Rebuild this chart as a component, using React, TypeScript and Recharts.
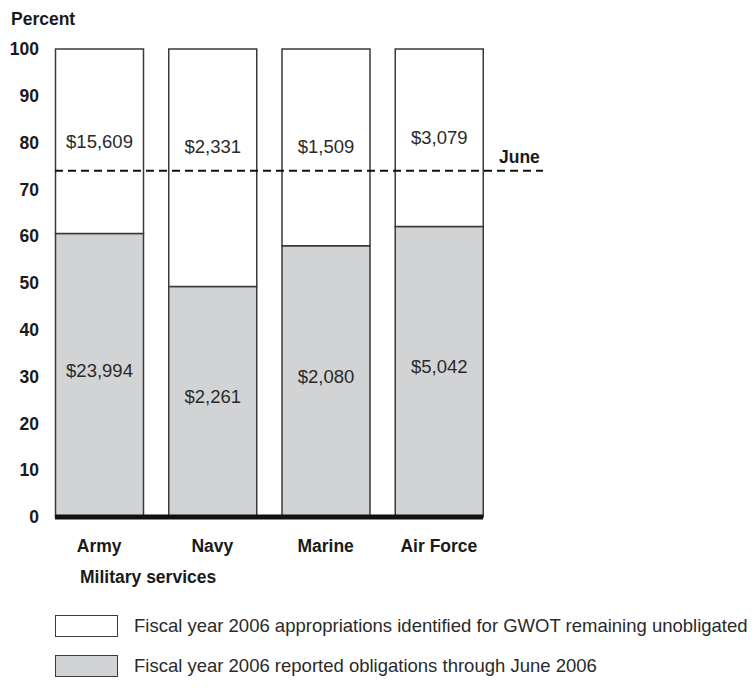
import React from 'react';
import {
  BarChart, Bar, XAxis, YAxis, ReferenceLine, LabelList,
} from 'recharts';

const services = ['Army', 'Navy', 'Marine', 'Air Force'];
// dollars in millions
const obligated = [23994, 2261, 2080, 5042];
const remaining = [15609, 2331, 1509, 3079];
const yTicks = [0, 10, 20, 30, 40, 50, 60, 70, 80, 90, 100];
const juneLevel = 74;

const FONT = '"Liberation Sans", Arial, Helvetica, sans-serif';
const GRAY = '#d2d3d5';
const EDGE = '#3a3a3a';

// plot box (page coords)
const TOP = 49;
const BOTTOM = 517;
const LEFT = 55;
const RIGHT = 483;
const W = 755;
const H = 688;

const data = services.map((s, i) => {
  const total = obligated[i] + remaining[i];
  return {
    service: s,
    obligatedPct: (obligated[i] / total) * 100,
    remainingPct: (remaining[i] / total) * 100,
    obligated: obligated[i],
    remaining: remaining[i],
  };
});

const fmt = (v: number) => `$${v.toLocaleString('en-US')}`;
const yOf = (v: number) => BOTTOM - ((BOTTOM - TOP) * v) / 100;

const makeLabel = (key: 'obligated' | 'remaining') => (props: any) => {
  const { x, y, width, height, index } = props;
  const cx = x + width / 2;
  let cy = y + height / 2;
  if (key === 'remaining') cy = Math.min(cy, yOf(juneLevel) - 24);
  else cy = cy - 5;
  return (
    <text x={cx} y={cy} textAnchor="middle" dominantBaseline="central"
      fontFamily={FONT} fontSize={18.5} fill="#2a2a2a">
      {fmt(data[index][key])}
    </text>
  );
};

const JuneLine = (props: any) => {
  const { x1, x2, y1 } = props;
  return (
    <g>
      <line x1={x1} x2={x2 + 60} y1={y1} y2={y1} stroke="#111" strokeWidth={2} strokeDasharray="8 5" />
      <text x={x2 + 16} y={y1 - 14} fontFamily={FONT} fontSize={17.5} fontWeight="bold" fill="#1a1a1a"
        dominantBaseline="central">June</text>
    </g>
  );
};

const legendItems = [
  { fill: '#ffffff', text: 'Fiscal year 2006 appropriations identified for GWOT remaining unobligated' },
  { fill: GRAY, text: 'Fiscal year 2006 reported obligations through June 2006' },
];

const LegendBox = () => (
  <div style={{ position: 'absolute', left: 55, top: 606, width: 700, fontFamily: FONT }}>
    {legendItems.map((it) => (
      <div key={it.text} style={{ display: 'flex', alignItems: 'center', height: 40, whiteSpace: 'nowrap' }}>
        <div style={{ width: 63, height: 22, background: it.fill, border: `1.5px solid ${EDGE}`, boxSizing: 'border-box', flex: 'none' }} />
        <span style={{ marginLeft: 16, fontSize: 18.5, color: '#2a2a2a' }}>{it.text}</span>
      </div>
    ))}
  </div>
);

export default function App() {
  return (
    <div style={{ position: 'absolute', left: 0, top: 0, width: W, height: H, background: '#fff' }}>
      <BarChart
        width={W}
        height={H}
        data={data}
        margin={{ top: TOP, right: W - RIGHT, left: 0, bottom: H - BOTTOM - 40 }}
      >
        <XAxis
          dataKey="service"
          height={40}
          padding={{ left: -12.5, right: -12.5 }}
          axisLine={{ stroke: '#111', strokeWidth: 5 }}
          tickLine={false}
          tickSize={0}
          tickMargin={23}
          tick={{ fontFamily: FONT, fontSize: 17.5, fontWeight: 'bold', fill: '#1a1a1a' }}
        />
        <YAxis
          width={LEFT}
          domain={[0, 100]}
          ticks={yTicks}
          axisLine={false}
          tickLine={false}
          tickSize={0}
          tickMargin={16}
          tick={{ fontFamily: FONT, fontSize: 17.5, fontWeight: 'bold', fill: '#1a1a1a' }}
        />
        <Bar dataKey="obligatedPct" stackId="a" barSize={88} fill={GRAY} stroke={EDGE} strokeWidth={1.5} isAnimationActive={false}>
          <LabelList dataKey="obligated" content={makeLabel('obligated')} />
        </Bar>
        <Bar dataKey="remainingPct" stackId="a" barSize={88} fill="#ffffff" stroke={EDGE} strokeWidth={1.5} isAnimationActive={false}>
          <LabelList dataKey="remaining" content={makeLabel('remaining')} />
        </Bar>
        <ReferenceLine y={juneLevel} shape={JuneLine} />
      </BarChart>
      <LegendBox />
      <div style={{ position: 'absolute', left: 11, top: 9, fontFamily: FONT, fontSize: 17.5, fontWeight: 'bold', color: '#1a1a1a' }}>
        Percent
      </div>
      <div style={{ position: 'absolute', left: 80, top: 567, fontFamily: FONT, fontSize: 17.5, fontWeight: 'bold', color: '#1a1a1a' }}>
        Military services
      </div>
    </div>
  );
}
